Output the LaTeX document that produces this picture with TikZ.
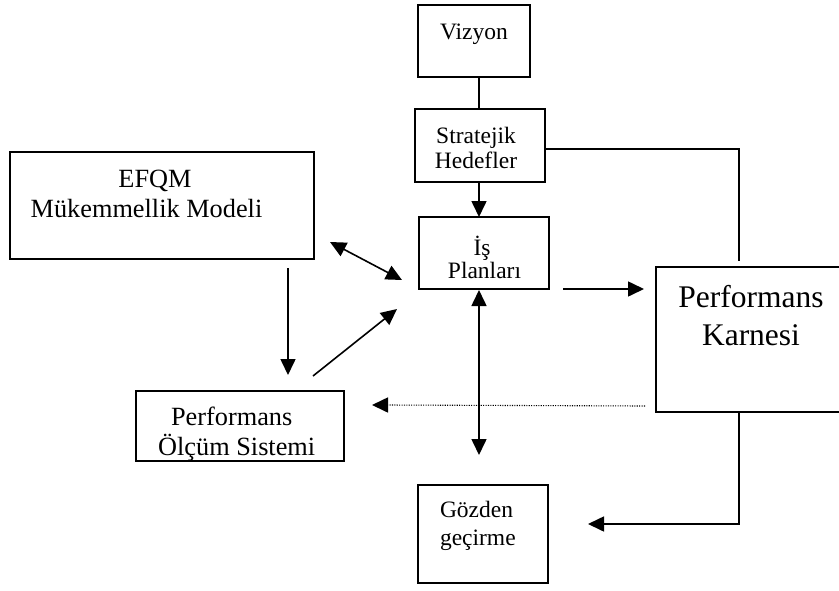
\documentclass[tikz,border=0pt]{standalone}
\usepackage{fontspec}
\setmainfont{Liberation Serif}
\usetikzlibrary{arrows.meta,calc}

\begin{document}
\begin{tikzpicture}[x=1pt,y=-1pt,
  box/.style={draw,line width=1.6pt,rectangle,inner sep=0pt,outer sep=0pt},
  lbl/.style={inner sep=0pt,outer sep=0pt,anchor=base},
  small/.style={font=\fontsize{23.5}{26}\selectfont},
  mid/.style={font=\fontsize{26.3}{30}\selectfont},
  big/.style={font=\fontsize{31.5}{36}\selectfont},
  link/.style={line width=1.6pt},
  >={Triangle[length=16pt,width=15pt]},
  dots/.style={line width=1.1pt,dash pattern=on 1.1pt off 1.3pt}]

\useasboundingbox (0,0) rectangle (839,590);
\clip (0,0) rectangle (839,590);

% boxes
\node[box,minimum width=112pt,minimum height=72pt] (viz)   at (474,41)    {};
\node[box,minimum width=130pt,minimum height=73pt] (strat) at (480,145.5) {};
\node[box,minimum width=130pt,minimum height=72pt] (is)    at (484,253)   {};
\node[box,minimum width=304pt,minimum height=107pt] (efqm) at (162,205.5) {};
\node[box,minimum width=208pt,minimum height=70pt] (pos)   at (240,426)   {};
\node[box,minimum width=210pt,minimum height=145pt] (karne) at (761,339.5) {};
\node[box,minimum width=130pt,minimum height=98pt] (goz)   at (483,534)   {};

% texts
\node[lbl,small] (tviz) at (474,39) {Vizyon};
\node[lbl,small] (tstratA) at (476,143) {Stratejik};
\node[lbl,small] (tstratB) at (476,168) {Hedefler};
\node[lbl,small] (tisA) at (482,255) {İş};
\node[lbl,small] (tisB) at (484.5,278) {Planları};
\node[lbl,mid] (tefqmA) at (155,187) {EFQM};
\node[lbl,mid] (tefqmB) at (146.5,217) {Mükemmellik Modeli};
\node[lbl,mid] (tposA) at (231.7,425) {Performans};
\node[lbl,mid] (tposB) at (236.7,455) {Ölçüm Sistemi};
\node[lbl,big] (tkA) at (751,307) {Performans};
\node[lbl,big] (tkB) at (751,345) {Karnesi};
\node[lbl,small,anchor=base west] (tgA) at (440,517) {Gözden};
\node[lbl,small,anchor=base west] (tgB) at (440,545) {geçirme};

% free ends of connectors
\coordinate (vOut) at (479,77);
\coordinate (sIn) at (479,109);
\coordinate (sOut) at (479,182);
\coordinate (iIn) at (479,217);
\coordinate (sRight) at (545,149);
\coordinate (kTop) at (739,261);
\coordinate (kBot) at (739,412);
\coordinate (gIn) at (588,524);
\coordinate (isOut) at (563,289);
\coordinate (kIn) at (644,289);
\coordinate (dotStart) at (645,406);
\coordinate (dotEnd) at (372,405);
\coordinate (isDown) at (479,290);
\coordinate (revTip) at (479,455);
\coordinate (eA) at (330,242);
\coordinate (eB) at (402,280);
\coordinate (eDownA) at (288,268);
\coordinate (eDownB) at (288,375);
\coordinate (pUpA) at (313,376);
\coordinate (pUpB) at (397,309);

% connectors
\draw[link] (vOut) -- (sIn);
\draw[link,->] (sOut) -- (iIn);
\draw[link] (sRight) -| (kTop);
\draw[link,->] (isOut) -- (kIn);
\draw[link,->] (kBot) |- (gIn);
\draw[dots] (dotStart) -- ($(dotEnd)+(14,0)$);
\draw[link,->] ($(dotEnd)+(15,0)$) -- (dotEnd);
\draw[link,<->] (isDown) -- (revTip);
\draw[link,<->] (eA) -- (eB);
\draw[link,->] (eDownA) -- (eDownB);
\draw[link,->] (pUpA) -- (pUpB);
\end{tikzpicture}
\end{document}
